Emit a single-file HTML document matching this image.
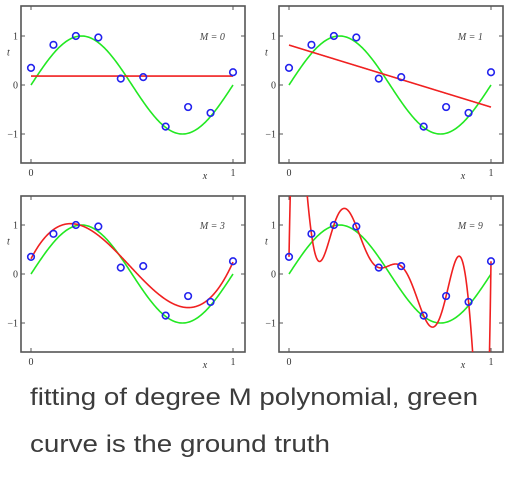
<!DOCTYPE html>
<html><head><meta charset="utf-8"><style>
body{margin:0;background:#fff;}
svg{display:block;}
</style></head><body>
<svg id="chart" width="519" height="478" viewBox="0 0 519 478">
<defs>
<clipPath id="c0"><rect x="21" y="6" width="224" height="157"/></clipPath>
<clipPath id="c1"><rect x="279" y="6" width="224" height="157"/></clipPath>
<clipPath id="c2"><rect x="21" y="196" width="224" height="156"/></clipPath>
<clipPath id="c3"><rect x="279" y="196" width="224" height="156"/></clipPath>
</defs>
<g id="panels"></g>
<text x="30" y="405" font-family="'Liberation Sans', sans-serif" font-size="24" fill="#3c3c3c" textLength="448" lengthAdjust="spacingAndGlyphs">fitting of degree M polynomial, green</text>
<text x="30" y="452" font-family="'Liberation Sans', sans-serif" font-size="24" fill="#3c3c3c" textLength="300" lengthAdjust="spacingAndGlyphs">curve is the ground truth</text>
</svg>
<script>
const xData = [0, 1/9, 2/9, 3/9, 4/9, 5/9, 6/9, 7/9, 8/9, 1];
const tData = [0.35, 0.82, 1.0, 0.97, 0.13, 0.16, -0.85, -0.45, -0.57, 0.26];
const degrees = [0, 1, 3, 9];
const yTicks = [-1, 0, 1];
const xTicks = [0, 1];

const NS = 'http://www.w3.org/2000/svg';
const panelsG = document.getElementById('panels');
const layout = [
  {x0: 31, y0: 85, fl: 21, ft: 6, fb: 163},
  {x0: 289, y0: 85, fl: 279, ft: 6, fb: 163},
  {x0: 31, y0: 274, fl: 21, ft: 196, fb: 352},
  {x0: 289, y0: 274, fl: 279, ft: 196, fb: 352}
];
const UX = 202, UY = 49, FW = 224;

function mk(tag, attrs, parent) {
  const e = document.createElementNS(NS, tag);
  for (const k in attrs) e.setAttribute(k, attrs[k]);
  parent.appendChild(e);
  return e;
}
function solve(A, b) {
  const n = b.length;
  A = A.map((r, i) => r.concat([b[i]]));
  for (let i = 0; i < n; i++) {
    let p = i;
    for (let k = i + 1; k < n; k++) if (Math.abs(A[k][i]) > Math.abs(A[p][i])) p = k;
    [A[i], A[p]] = [A[p], A[i]];
    for (let k = i + 1; k < n; k++) {
      const f = A[k][i] / A[i][i];
      for (let j = i; j <= n; j++) A[k][j] -= f * A[i][j];
    }
  }
  const x = new Array(n).fill(0);
  for (let i = n - 1; i >= 0; i--) {
    let s = A[i][n];
    for (let j = i + 1; j < n; j++) s -= A[i][j] * x[j];
    x[i] = s / A[i][i];
  }
  return x;
}
function fitFn(M) {
  if (M === 9) {
    return x => {
      let s = 0;
      for (let i = 0; i < xData.length; i++) {
        let l = 1;
        for (let j = 0; j < xData.length; j++) if (j !== i) l *= (x - xData[j]) / (xData[i] - xData[j]);
        s += tData[i] * l;
      }
      return s;
    };
  }
  const n = M + 1;
  const A = [], b = [];
  for (let i = 0; i < n; i++) {
    A.push([]);
    for (let j = 0; j < n; j++) A[i].push(xData.reduce((s, x) => s + Math.pow(x, i + j), 0));
    b.push(xData.reduce((s, x, k) => s + Math.pow(x, i) * tData[k], 0));
  }
  const w = solve(A, b);
  return x => w.reduce((s, c, i) => s + c * Math.pow(x, i), 0);
}

degrees.forEach((M, p) => {
  const L = layout[p];
  const sx = x => L.x0 + x * UX;
  const sy = y => L.y0 - y * UY;
  const g = mk('g', {}, panelsG);
  
  
  const frame = mk('rect', {x: L.fl, y: L.ft, width: FW, height: L.fb - L.ft, fill: 'none', stroke: '#555', 'stroke-width': 1.6}, g);
  
  
  yTicks.forEach(v => {
    mk('line', {x1: L.fl, x2: L.fl + 4, y1: sy(v), y2: sy(v), stroke: '#555'}, g);
    mk('line', {x1: L.fl + FW, x2: L.fl + FW - 4, y1: sy(v), y2: sy(v), stroke: '#555'}, g);
    const t = mk('text', {x: L.fl - 3, y: sy(v) + 3.5, 'text-anchor': 'end', 'font-family': "'Liberation Serif', serif", 'font-size': 10, fill: '#333'}, g);
    t.textContent = v < 0 ? '\u2212' + Math.abs(v) : String(v);
    
    
  });
  xTicks.forEach(v => {
    mk('line', {x1: sx(v), x2: sx(v), y1: L.fb, y2: L.fb - 4, stroke: '#555'}, g);
    mk('line', {x1: sx(v), x2: sx(v), y1: L.ft, y2: L.ft + 4, stroke: '#555'}, g);
    const t = mk('text', {x: sx(v), y: L.fb + 13, 'text-anchor': 'middle', 'font-family': "'Liberation Serif', serif", 'font-size': 10, fill: '#333'}, g);
    t.textContent = String(v);
    
    
  });
  const tl = mk('text', {x: L.fl - 14, y: sy(0.6), 'font-family': "'Liberation Serif', serif", 'font-style': 'italic', 'font-size': 10, fill: '#333'}, g);
  tl.textContent = 't';
  
  
  const xl = mk('text', {x: sx(0.85), y: L.fb + 16, 'font-family': "'Liberation Serif', serif", 'font-style': 'italic', 'font-size': 10, fill: '#333'}, g);
  xl.textContent = 'x';
  
  
  const ml = mk('text', {x: sx(0.96), y: sy(1) + 4, 'text-anchor': 'end', 'font-family': "'Liberation Serif', serif", 'font-style': 'italic', 'font-size': 10, fill: '#444'}, g);
  ml.textContent = 'M = ' + M;
  
  

  const cg = mk('g', {'clip-path': 'url(#c' + p + ')'}, g);
  let gd = '';
  for (let i = 0; i <= 200; i++) { const x = i / 200; gd += (i ? 'L' : 'M') + sx(x).toFixed(2) + ',' + sy(Math.sin(2 * Math.PI * x)).toFixed(2); }
  const gp = mk('path', {d: gd, fill: 'none', stroke: '#22e822', 'stroke-width': 1.6}, cg);
  
  
  const f = fitFn(M);
  let rd = '';
  for (let i = 0; i <= 600; i++) {
    const x = i / 600;
    let y = f(x); y = Math.max(-5, Math.min(5, y));
    rd += (i ? 'L' : 'M') + sx(x).toFixed(2) + ',' + sy(y).toFixed(2);
  }
  const rp = mk('path', {d: rd, fill: 'none', stroke: '#f02020', 'stroke-width': 1.6}, cg);
  
  
  xData.forEach((x, i) => {
    const c = mk('circle', {cx: sx(x), cy: sy(tData[i]), r: 3.3, fill: 'none', stroke: '#2222ee', 'stroke-width': 1.6}, g);
    
    
  });
});
</script>
</body></html>
